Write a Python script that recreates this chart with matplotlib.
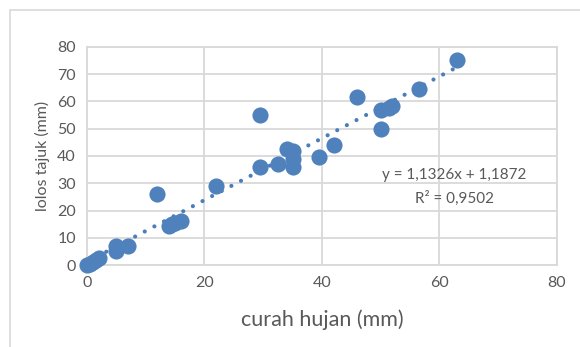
import matplotlib
matplotlib.use('Agg')
import matplotlib.pyplot as plt
from matplotlib.patches import Rectangle

# data
curah_hujan = [0, 0.5, 1, 1.5, 2, 5, 5, 7, 12, 14, 14.5, 15, 16, 22, 29.5, 29.5,
               32.5, 34, 35, 35, 35, 39.5, 42, 46, 50, 50, 51.5, 52, 56.5, 63]
lolos_tajuk = [0, 0.5, 1, 2, 2.5, 7, 5, 7, 26, 14.5, 15, 15.5, 16, 29, 55, 36,
               37, 42.5, 42, 39, 36, 39.5, 44, 61.5, 57, 50, 57.5, 58.5, 64.5, 75]
slope = 1.1326
intercept = 1.1872
x_ticks = [0, 20, 40, 60, 80]
y_ticks = [0, 10, 20, 30, 40, 50, 60, 70, 80]

plt.rcParams['font.family'] = ['Lato', 'DejaVu Sans']

fig = plt.figure(figsize=(5.8, 3.47), dpi=100)
ax = fig.add_axes([0.15, 0.236, 0.81, 0.629])

# outer chart border
fig.patches.append(Rectangle((0.017, -0.1), 1.1, 1.07, transform=fig.transFigure,
                             fill=False, edgecolor='#d9d9d9', linewidth=1.2))

ax.scatter(curah_hujan, lolos_tajuk, s=135, color='#4f81bd', zorder=3,
           linewidths=0, clip_on=False)

xs = [0, max(curah_hujan)]
ax.plot(xs, [slope * v + intercept for v in xs], linestyle=(0, (0.01, 2.6)),
        color='#4a7ebb', linewidth=3, dash_capstyle='round', zorder=2)

ax.text(62.6, 33, 'y = 1,1326x + 1,1872', ha='center', va='center',
        fontsize=11, color='#595959')
ax.text(62.6, 24.6, 'R² = 0,9502', ha='center', va='center',
        fontsize=11, color='#595959')

ax.set_xlim(0, 80)
ax.set_ylim(0, 80)
ax.set_xticks(x_ticks)
ax.set_yticks(y_ticks)
ax.grid(True, color='#d9d9d9', linewidth=1.3)
ax.set_axisbelow(True)
for s in ax.spines.values():
    s.set_color('#d9d9d9')
    s.set_linewidth(1.3)
ax.tick_params(length=0, labelsize=11.5, labelcolor='#595959', pad=8)

ax.set_xlabel('curah hujan (mm)', fontsize=15.5, color='#595959', labelpad=14)
ax.set_ylabel('lolos tajuk (mm)', fontsize=11.5, color='#595959', labelpad=5)

fig.savefig('out.png', dpi=100)
